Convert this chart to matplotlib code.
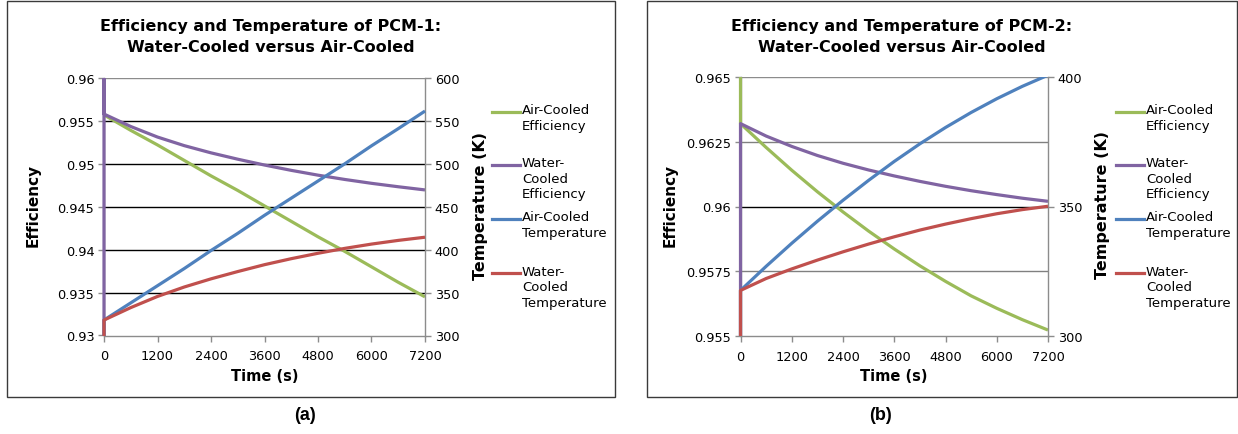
import numpy as np
import matplotlib.pyplot as plt
from matplotlib.lines import Line2D
from matplotlib.patches import Rectangle
from matplotlib.transforms import Bbox, TransformedBbox

# time steps (s)
time = [0, 600, 1200, 1800, 2400, 3000, 3600, 4200, 4800, 5400, 6000, 6600, 7200]

# PCM-1
air_eff_1 = [0.9557, 0.9539, 0.9522, 0.9504, 0.9486, 0.9469, 0.9451,
             0.9433, 0.9415, 0.9398, 0.9380, 0.9362, 0.9345]
water_eff_1 = [0.95580, 0.95435, 0.95312, 0.95212, 0.95128, 0.95054, 0.94986,
               0.94924, 0.94868, 0.94818, 0.94773, 0.94733, 0.94696]
air_temp_1 = [318, 338, 358, 378, 399, 419, 440, 460, 480, 500, 521, 541, 561.5]
water_temp_1 = [318, 332.5, 345.5, 356.5, 366, 374.5, 382.5, 389.5, 395.8,
                401.5, 406.5, 410.8, 414.5]

# PCM-2
air_eff_2 = [0.96320, 0.96228, 0.96140, 0.96057, 0.95979, 0.95905, 0.95836,
             0.95771, 0.95711, 0.95655, 0.95607, 0.95563, 0.95523]
water_eff_2 = [0.96320, 0.96272, 0.96232, 0.96197, 0.96167, 0.96141, 0.96118,
               0.96097, 0.96078, 0.96061, 0.96046, 0.96032, 0.96020]
air_temp_2 = [317.6, 326.9, 335.8, 344.3, 352.4, 360.1, 367.4, 374.2, 380.5,
              386.3, 391.6, 396.4, 400.7]
water_temp_2 = [317.6, 322.2, 325.9, 329.3, 332.5, 335.5, 338.3, 340.9, 343.2,
                345.3, 347.2, 348.8, 350.1]

# values logged at t = 0 before the first step (mostly off the axis range)
start_1 = {"air_eff": [], "water_eff": [0.92, 0.97], "air_temp": [290], "water_temp": [290]}
start_2 = {"air_eff": [0.97], "water_eff": [0.95], "air_temp": [290], "water_temp": [290]}

labels = ["Air-Cooled\nEfficiency", "Water-\nCooled\nEfficiency",
          "Air-Cooled\nTemperature", "Water-\nCooled\nTemperature"]
colors = ["#9BBB59", "#8064A2", "#4F81BD", "#C0504D"]

W, H = 1238, 435
fig = plt.figure(figsize=(W / 100, H / 100), dpi=100)
plt.rcParams['font.family'] = 'DejaVu Sans'


def fx(px):
    return px / W


def fy(py):
    return 1 - py / H


def series(pre, vals):
    x = np.r_[np.zeros(len(pre)), time]
    y = np.r_[pre, vals]
    return x, y


def draw(a, pre, vals, c):
    x, y = series(pre, vals)
    ln, = a.plot(x, y, color=c, lw=2.3, solid_capstyle="butt", zorder=3)
    # let the t = 0 trace show over the axis line
    ln.set_clip_box(TransformedBbox(Bbox([[-0.03, 0], [1.03, 1]]), a.transAxes))


def panel(box, rect, title, eff, temps, start, eff_ticks, eff_labels,
          temp_ticks, grid_colors, legend_x, ylab_x, tlab_x):
    # outer frame
    fig.add_artist(Rectangle((fx(box[0]), fy(box[3])), fx(box[2] - box[0]),
                             (box[3] - box[1]) / H, transform=fig.transFigure,
                             fill=False, edgecolor="#3a3a3a", lw=1.0))
    x0, x1, y0, y1 = rect
    ax = fig.add_axes([fx(x0), fy(y1), fx(x1 - x0), (y1 - y0) / H])
    ax2 = ax.twinx()

    for k, vals, c in zip(["air_eff", "water_eff"], eff, colors[:2]):
        draw(ax, start[k], vals, c)
    for k, vals, c in zip(["air_temp", "water_temp"], temps, colors[2:]):
        draw(ax2, start[k], vals, c)

    ax.set_xlim(0, 7200)
    ax.set_ylim(eff_ticks[0], eff_ticks[-1])
    ax2.set_ylim(temp_ticks[0], temp_ticks[-1])
    ax.set_xticks(np.arange(0, 7201, 1200))
    ax.set_yticks(eff_ticks)
    ax.set_yticklabels(eff_labels)
    ax2.set_yticks(temp_ticks)
    ax.yaxis.grid(True, lw=1.0)
    for gl, gc in zip(ax.get_ygridlines(), grid_colors):
        gl.set_color(gc)

    for a in (ax, ax2):
        for s in a.spines.values():
            s.set_color("#8c8c8c")
            s.set_linewidth(1.0)
            s.set_visible(False)
        a.tick_params(colors="#8c8c8c", labelcolor="black", labelsize=9.3,
                      length=4, width=1.0, direction="out", pad=3)
    ax.spines["left"].set_visible(True)
    ax.spines["bottom"].set_visible(True)
    ax2.spines["right"].set_visible(True)
    ax.tick_params(axis="x", pad=6)
    ax.set_zorder(ax2.get_zorder() - 1)
    ax2.patch.set_visible(False)

    ax.set_xlabel("Time (s)", fontsize=10.5, fontweight="bold", labelpad=4)
    fig.text(fx(ylab_x), fy((y0 + y1) / 2 - 2), "Efficiency", rotation=90,
             fontsize=11, fontweight="bold", ha="center", va="center")
    fig.text(fx(tlab_x), fy((y0 + y1) / 2 - 2), "Temperature (K)", rotation=90,
             fontsize=11.5, fontweight="bold", ha="center", va="center")
    fig.text(fx(title[0]), fy(37.5), title[1], fontsize=11.5, fontweight="bold",
             ha="center", va="center", linespacing=1.5)

    # legend
    for lab, c, py in zip(labels, colors, [113, 166, 220, 274]):
        fig.add_artist(Line2D([fx(legend_x), fx(legend_x + 28)], [fy(py), fy(py)],
                              transform=fig.transFigure, color=c, lw=2.3))
        fig.text(fx(legend_x + 30), fy(py - 8.5), lab, fontsize=9.5, ha="left",
                 va="top", linespacing=1.25)
    return ax


panel((7, 2, 615, 398), (104, 425, 79, 336.5),
      (271, "Efficiency and Temperature of PCM-1:\nWater-Cooled versus Air-Cooled"),
      (air_eff_1, water_eff_1), (air_temp_1, water_temp_1), start_1,
      [0.93, 0.935, 0.94, 0.945, 0.95, 0.955, 0.96],
      ["0.93", "0.935", "0.94", "0.945", "0.95", "0.955", "0.96"],
      np.arange(300, 601, 50),
      ["none", "black", "black", "black", "black", "black", "#8c8c8c"],
      492, 33, 480)

panel((647, 2, 1237, 398), (740.5, 1048, 78, 337),
      (902, "Efficiency and Temperature of PCM-2:\nWater-Cooled versus Air-Cooled"),
      (air_eff_2, water_eff_2), (air_temp_2, water_temp_2), start_2,
      [0.955, 0.9575, 0.96, 0.9625, 0.965],
      ["0.955", "0.9575", "0.96", "0.9625", "0.965"],
      np.arange(300, 401, 50),
      ["none", "#808080", "black", "#808080", "#8c8c8c"],
      1116, 670, 1103)

fig.text(fx(305), fy(416), "(a)", fontsize=13, fontweight="bold",
         family="Liberation Sans", ha="center", va="center")
fig.text(fx(880), fy(416), "(b)", fontsize=13, fontweight="bold",
         family="Liberation Sans", ha="center", va="center")

fig.savefig("out.png", dpi=100)
